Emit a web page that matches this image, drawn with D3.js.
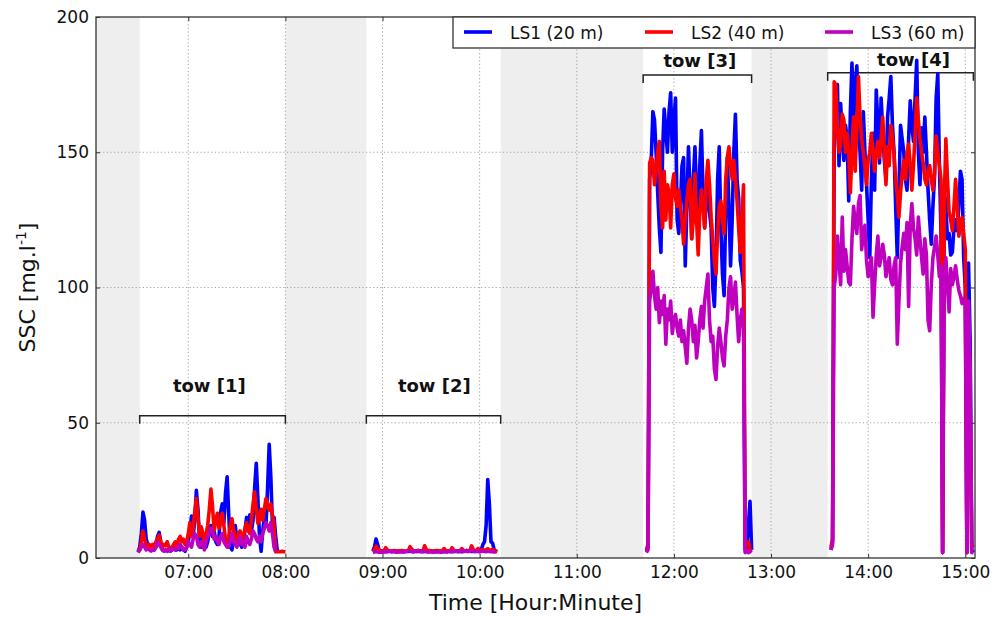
<!DOCTYPE html>
<html>
<head>
<meta charset="utf-8">
<script src="https://cdn.jsdelivr.net/npm/d3@7"></script>
<style>
  body { margin: 0; background: #fff; }
  text { font-family: "DejaVu Sans", sans-serif; fill: #111; }
</style>
</head>
<body>
<svg id="chart" width="1003" height="617"></svg>
<script>
// ---- Series names and tick labels ----
const seriesNames = ["LS1 (20 m)", "LS2 (40 m)", "LS3 (60 m)"];
const xTickLabels = ["07:00", "08:00", "09:00", "10:00", "11:00", "12:00", "13:00", "14:00", "15:00"];
const yTickValues = [0, 50, 100, 150, 200];

// ---- Tows: name, time window, bracket level and label placement ----
const towNames = ["tow [1]", "tow [2]", "tow [3]", "tow [4]"];
const towBegin = ["06:30", "08:50", "11:41", "13:35"];
const towEnd = ["08:00", "10:13", "12:48", "15:05"];
const towBracketSSC = [52.6, 52.6, 178.6, 179.4];
const towLabelSSC = [61.5, 61.5, 181.6, 181.8];
const towLabelAt = ["07:13", "09:32", "12:16", "14:28"];

// ---- First sample time of each tow record (one sample per minute) ----
const sampleStart = ["06:29", "08:54", "11:43", "13:37"];

// ---- SSC records [mg/l], tow 1 ----
const ls1Tow1 = [2.3,4,9,17,14,7,5,3.5,4,3, 3,4,8,9.5,6,3,2.5,3,2.5,3, 2.5,3,4,3,3,3.5,3,4,3,2.5,
  4,6,10,15.5,8,14,25,18,6,4, 9,7,4,6,10,12,8,10,6,5, 8,17,20,13,24,30,16,4,3,8,
  12,7,5,6,4,6,10,15,12,16, 10,14,26,35,22,8,2.5,10,15,12, 26,42,30,12,15,8,2.5, null,null,null,null,null];
const ls2Tow1 = [2.3,3,6,10,7,4.5,4,5,3.5,5, 4,6,7,8.5,6,4,5,4.5,6,4, 3,4,5,6,4,7,8,6,7,5,
  6,9,13,8,11,17,22,15,8,11.5, 9,5,9,12,18,25.5,19,10,14,16.5, 11,13,16.5,12,6.5,5,8,12,14.5,10,
  7,6.5,9,10,7,8,11,13,10,9, 14,20,24.5,18,12.8,15,18,14,18,22, 19,17.7,20,16,12,2.3,2.3,2.4,2.3,2.5, 2.3,2.3];
const ls3Tow1 = [2,3,4,5,4,3,3.5,3,2.5,3, 3,4,6,5,4,3,2.5,3,2.5,3.5, 2.5,3,3.5,3,4,3.5,5,4,3,3,
  4,6,5,4,7,9,8,5,4,6, 5,3,6,8,9,11,10,7,8,6, 5,8,9,6,5,4,4,7,9,6,
  5,4,6,8,5,6,4,8,6,5, 7,10,9,7,6,8,6,9,11,13, 12,10,13,9,4,2.3, null,null,null,null,null,null];

// ---- SSC records [mg/l], tow 2 ----
const ls1Tow2 = [2.5,4,7,5,2.5,
  2.4,2.5,2.4,2.3,2.5,2.4,2.4,2.6,2.4,2.3, 2.5,2.4,2.4,2.5,2.3,2.4,2.5,2.4,2.6,2.4,
  2.3,2.4,2.5,2.4,2.4,2.5,2.3,2.4,2.5,2.4, 2.4,2.6,2.4,2.3,2.5,2.4,2.4,2.5,2.3,2.4,
  2.5,2.4,2.6,2.4,2.3,2.4,2.5,2.4,2.4,2.5, 2.3,2.4,2.5,2.8,2.4,2.6,2.4,2.5,2.4,2.5, 2.4,2.6,
  3,5,6,12,29,20,6,5.5,3,2.5,null];
const ls2Tow2 = [2.5,3,4.4,3.5,2.8,
  2.7,2.7,2.8,3.8,2.9,2.7,2.6,2.7,2.8,2.7, 2.6,2.7,2.7,2.8,2.7,2.6,2.7,2.8,4.2,3.3,
  2.7,2.6,2.7,2.8,2.7,2.7,2.6,4.5,3.2,2.7, 2.8,2.7,2.6,2.7,2.7,2.8,2.7,2.6,2.7,3.5,
  2.8,2.7,2.6,2.7,3.8,2.9,2.7,2.6,2.7,2.7, 3.5,2.8,2.7,2.6,2.7,2.8,4.5,3.2,2.7,2.7, 3.5,2.8,
  2.8,3.2,2.7,3,3.5,3,2.8,3.3,2.7,2.5,2.3];
const ls3Tow2 = [2,2.2,2.4,2.2,2.1,
  2.2,2.1,2.2,2.6,2.3,2.7,2.4,2.2,2.6,2.2, 2.1,2.2,2.2,2.3,2.2,2.5,2.4,2.7,2.8,2.5,
  2.3,2.6,2.4,2.8,2.5,2.3,2.6,2.7,2.4,2.2, 2.3,2.2,2.1,2.2,2.2,2.3,2.2,2.1,2.4,2.3,
  2.2,2.2,2.5,2.3,2.6,2.4,2.7,2.5,2.3,2.6, 2.8,2.5,2.7,2.4,2.6,2.5,2.8,2.6,2.4,2.7, 2.5,2.3,
  2.4,2.6,2.5,2.3,2.6,2.4,2.3,2.4,2.2,2.1,null];

// ---- SSC records [mg/l], tow 3 ----
const ls1Tow3 = [2.5,4,
  140,147,165,162,150,135,122,113,150,166, 158,150,165,172,150,162,170,125,120,130,
  145,148,108,130,152,135,118,140,152,135, 124,145,158,135,122,132,140,128,122,100,
  93,110,140,152,122,105,97,128,148,130, 108,125,150,164,140,133,110,106,100,
  3,4,12,21,3];
const ls2Tow3 = [3,5,
  146,148,147,138,143,150,154,130,122,143, 125,138,135,122,138,142,133,130,136,130,
  125,116,125,132,138,140,118,125,142,125, 112,128,136,130,122,140,147,138,126,118,
  110,105,120,130,132,125,120,140,148,152, 145,140,147,140,132,122,113,125,138,
  4,5,6,3,2.5];
const ls3Tow3 = [2,3,
  95,100,106,97,92,100,87,95,90,97, 79,92,88,95,83,88,90,85,82,88,
  80,84,78,72,85,92,88,80,86,74, 80,88,93,85,95,100,105,88,80,82,
  70,66,78,85,80,74,71,82,88,100, 104,92,96,102,90,80,88,92,85,
  2,3,2,2.5,2];

// ---- SSC records [mg/l], tow 4 ----
const ls1Tow4 = [3,6,150,170,175,145,168,155,147,160, 155,132,165,183,160,175,182,160,150,136,
  165,150,138,125,111,140,157,136,173,160, 146,170,158,147,140,163,170,178,160,150,
  130,111,135,160,155,150,140,136,155,169, 160,154,170,184,150,138,159,150,163,150,
  136,125,116,130,141,170,179,146,120,2, 136,130,118,120,112,113,122,125,121,130,
  143,140,111,100,2,109,80,3,2];
const ls2Tow4 = [4,7,176,175,160,150,153,164,162,150, 157,150,135,150,163,143,160,178,163,155,
  150,145,138,147,150,157,150,143,150,154, 148,155,163,150,138,152,145,160,156,149,
  140,134,126,135,142,147,140,150,153,145, 136,145,157,170,162,155,150,146,140,138,
  143,145,140,136,142,156,150,145,140,2, 132,155,140,128,125,121,130,140,130,119,
  122,126,120,114,2,90,60,5,4];
const ls3Tow4 = [3,5,100,105,119,110,101,126,106,114, 108,102,101,118,130,124,120,131,134,114,
  120,123,110,104,108,111,89,101,112,119, 108,111,116,112,104,108,111,103,101,108,
  111,79,95,109,115,120,114,124,93,123, 131,122,118,112,126,118,111,105,118,112,
  88,84,101,111,115,119,112,104,108,2, 104,111,100,91,107,101,104,108,103,99,
  97,94,96,94,2,95,70,2,2];

const seriesByTow = [
  [ls1Tow1, ls1Tow2, ls1Tow3, ls1Tow4],
  [ls2Tow1, ls2Tow2, ls2Tow3, ls2Tow4],
  [ls3Tow1, ls3Tow2, ls3Tow3, ls3Tow4]
];
const seriesColors = ["#0000ff", "#ff0000", "#bf00bf"];

// ---- Helpers ----
const toMin = s => { const [h, m] = s.split(":").map(Number); return h * 60 + m; };
const fmtMin = v => String(Math.floor(v / 60)).padStart(2, "0") + ":" + String(Math.round(v % 60)).padStart(2, "0");

// ---- Layout ----
const svg = d3.select("#chart");
const plot = { left: 96, right: 975, top: 17, bottom: 558 };

const x = d3.scaleLinear().domain([toMin("06:03"), toMin("15:06")]).range([plot.left, plot.right]);
const y = d3.scaleLinear().domain([0, 200]).range([plot.bottom, plot.top]);
const xTicks = xTickLabels.map(toMin);

// Shaded background between tows
const gaps = [];
gaps.push([x.domain()[0], toMin(towBegin[0])]);
for (let i = 1; i < towBegin.length; i++) gaps.push([toMin(towEnd[i - 1]), toMin(towBegin[i])]);
svg.append("g").selectAll("rect").data(gaps).join("rect")
  .attr("x", d => x(d[0])).attr("width", d => x(d[1]) - x(d[0]))
  .attr("y", plot.top).attr("height", plot.bottom - plot.top)
  .attr("fill", "#eeeeee");

// Dotted grid
const grid = svg.append("g").attr("stroke", "#9a9a9a").attr("stroke-width", 0.9).attr("stroke-dasharray", "1.2,2.4");
grid.selectAll("line.gx").data(xTicks).join("line").attr("class", "gx")
  .attr("x1", d => x(d)).attr("x2", d => x(d)).attr("y1", plot.top).attr("y2", plot.bottom);
grid.selectAll("line.gy").data(yTickValues.filter(v => v > 0 && v < 200)).join("line").attr("class", "gy")
  .attr("y1", d => y(d)).attr("y2", d => y(d)).attr("x1", plot.left).attr("x2", plot.right);

// Tow brackets and labels
const br = svg.append("g");
towNames.forEach((name, i) => {
  const x0 = x(toMin(towBegin[i])), x1 = x(toMin(towEnd[i]));
  const yb = y(towBracketSSC[i]);
  br.append("path")
    .attr("d", `M${x0},${yb + 8}V${yb}H${x1}V${yb + 8}`)
    .attr("fill", "none").attr("stroke", "#222").attr("stroke-width", 1.5);
  br.append("text").attr("x", x(toMin(towLabelAt[i]))).attr("y", y(towLabelSSC[i]))
    .attr("text-anchor", "middle").attr("font-size", 18).attr("font-weight", "bold").text(name);
});

// Data lines
const line = d3.line().defined(d => d.v != null).x(d => x(d.t)).y(d => y(d.v));
const lineG = svg.append("g").attr("fill", "none").attr("stroke-width", 3.6).attr("stroke-linejoin", "round");
seriesByTow.forEach((tows, si) => {
  tows.forEach((vals, ti) => {
    const t0 = toMin(sampleStart[ti]);
    const pts = vals.map((v, i) => ({ t: t0 + i, v }));
    lineG.append("path").datum(pts).attr("d", line).attr("stroke", seriesColors[si]);
  });
});

// Axes with inward ticks on all four sides
const axB = svg.append("g").attr("transform", `translate(0,${plot.bottom})`)
  .call(d3.axisBottom(x).tickValues(xTicks).tickFormat(fmtMin).tickSize(-4).tickPadding(8));
const axL = svg.append("g").attr("transform", `translate(${plot.left},0)`)
  .call(d3.axisLeft(y).tickValues(yTickValues).tickFormat(d3.format("d")).tickSize(-4).tickPadding(7));
const axT = svg.append("g").attr("transform", `translate(0,${plot.top})`)
  .call(d3.axisTop(x).tickValues(xTicks).tickFormat("").tickSize(-4));
const axR = svg.append("g").attr("transform", `translate(${plot.right},0)`)
  .call(d3.axisRight(y).tickValues(yTickValues).tickFormat("").tickSize(-4));
[axB, axL, axT, axR].forEach(g => {
  g.select(".domain").remove();
  g.selectAll(".tick line").attr("stroke", "#333").attr("stroke-width", 1);
  g.selectAll(".tick text").attr("font-size", 17).attr("font-family", "DejaVu Sans").attr("fill", "#111");
});

// Plot frame
svg.append("rect").attr("x", plot.left).attr("y", plot.top)
  .attr("width", plot.right - plot.left).attr("height", plot.bottom - plot.top)
  .attr("fill", "none").attr("stroke", "#333").attr("stroke-width", 1.3);

// Axis titles
svg.append("text").attr("x", (plot.left + plot.right) / 2).attr("y", 610)
  .attr("text-anchor", "middle").attr("font-size", 22).text("Time [Hour:Minute]");
const yt = svg.append("text").attr("transform", `translate(35,${(plot.top + plot.bottom) / 2}) rotate(-90)`)
  .attr("text-anchor", "middle").attr("font-size", 22);
yt.append("tspan").text("SSC [mg.l");
yt.append("tspan").attr("font-size", 14).attr("dy", -9).text("-1");
yt.append("tspan").attr("dy", 9).text("]");

// Legend
const leg = svg.append("g");
leg.append("rect").attr("x", 453).attr("y", plot.top).attr("width", plot.right - 453).attr("height", 31)
  .attr("fill", "#fff").attr("stroke", "#333").attr("stroke-width", 1.3);
const legX = [464, 645, 825];
seriesNames.forEach((n, i) => {
  leg.append("line").attr("x1", legX[i]).attr("x2", legX[i] + 28).attr("y1", 32).attr("y2", 32)
    .attr("stroke", seriesColors[i]).attr("stroke-width", 3.6);
  leg.append("text").attr("x", legX[i] + 46).attr("y", 38.5).attr("font-size", 17).text(n);
});
</script>
</body>
</html>
